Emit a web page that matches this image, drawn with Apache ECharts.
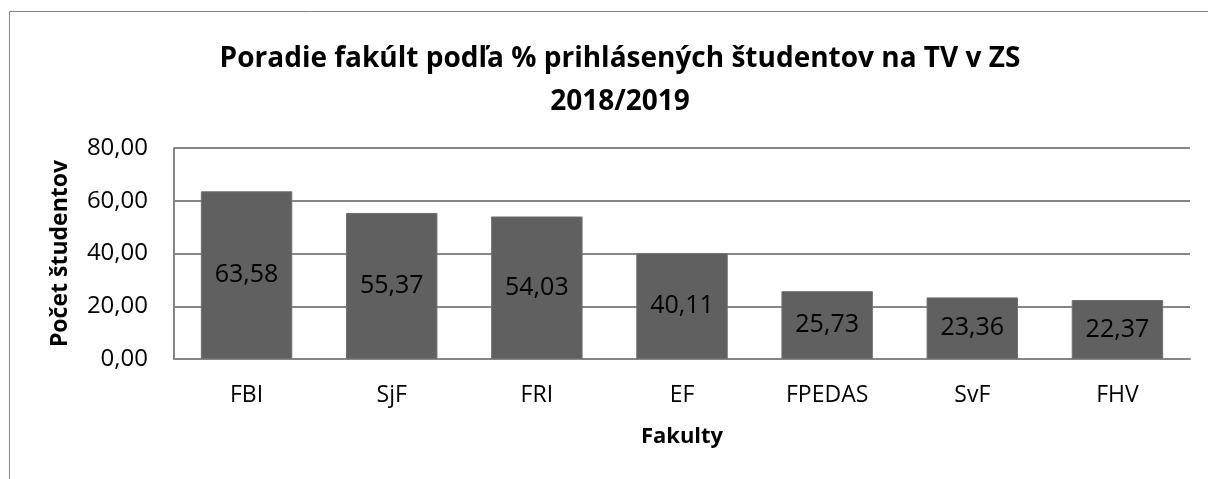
<!DOCTYPE html>
<html><head><meta charset="utf-8">
<script src="https://cdn.jsdelivr.net/npm/echarts@6/dist/echarts.min.js"></script>
<style>html,body{margin:0;padding:0;background:#fff}#c{width:1208px;height:479px}</style>
</head><body><div id="c"></div>
<script>
const titleLines = ['Poradie fakúlt podľa % prihlásených študentov na TV v ZS', '2018/2019'];
const categories = ['FBI', 'SjF', 'FRI', 'EF', 'FPEDAS', 'SvF', 'FHV'];
const values = [63.58, 55.37, 54.03, 40.11, 25.73, 23.36, 22.37];
const yTicks = {min: 0, max: 80, interval: 20};
const xName = 'Fakulty';
const yName = 'Počet študentov';

const fmt = v => v.toFixed(2).replace('.', ',');
const font = '"Open Sans", "Liberation Sans", sans-serif';
const chart = echarts.init(document.getElementById('c'));
chart.setOption({
  animation: false,
  textStyle: {fontFamily: font},
  graphic: [{type: 'rect', shape: {x: 9.5, y: 11.5, width: 1210, height: 480}, style: {fill: 'none', stroke: '#868686', lineWidth: 1}}],
  title: {text: titleLines.join('\n'), left: 615, top: 33, textAlign: 'center',
    textStyle: {fontFamily: font, fontWeight: 'bold', fontSize: 28, color: '#000', lineHeight: 43}},
  grid: {left: 174, right: 18, top: 148, bottom: 120, containLabel: false},
  xAxis: {type: 'category', data: categories, name: xName, nameLocation: 'middle', nameGap: 67,
    nameTextStyle: {fontFamily: font, fontWeight: 'bold', fontSize: 22, color: '#000'},
    axisLine: {lineStyle: {color: '#868686', width: 2}}, axisTick: {show: false},
    axisLabel: {fontSize: 23, color: '#000', margin: 25}},
  yAxis: {type: 'value', min: yTicks.min, max: yTicks.max, interval: yTicks.interval,
    name: yName, nameLocation: 'middle', nameGap: 102, nameRotate: 90,
    nameTextStyle: {fontFamily: font, fontWeight: 'bold', fontSize: 23, color: '#000'},
    axisLine: {show: true, lineStyle: {color: '#868686', width: 2}}, axisTick: {show: false},
    axisLabel: {fontSize: 24, color: '#000', margin: 26, formatter: v => fmt(v)},
    splitLine: {lineStyle: {color: '#868686', width: 2}}},
  series: [{type: 'bar', data: values, barCategoryGap: '37%',
    itemStyle: {color: '#606060', borderColor: '#707070', borderWidth: 1},
    label: {show: true, position: 'inside', fontSize: 25, color: '#000', formatter: p => fmt(p.value)}}]
});
</script></body></html>
